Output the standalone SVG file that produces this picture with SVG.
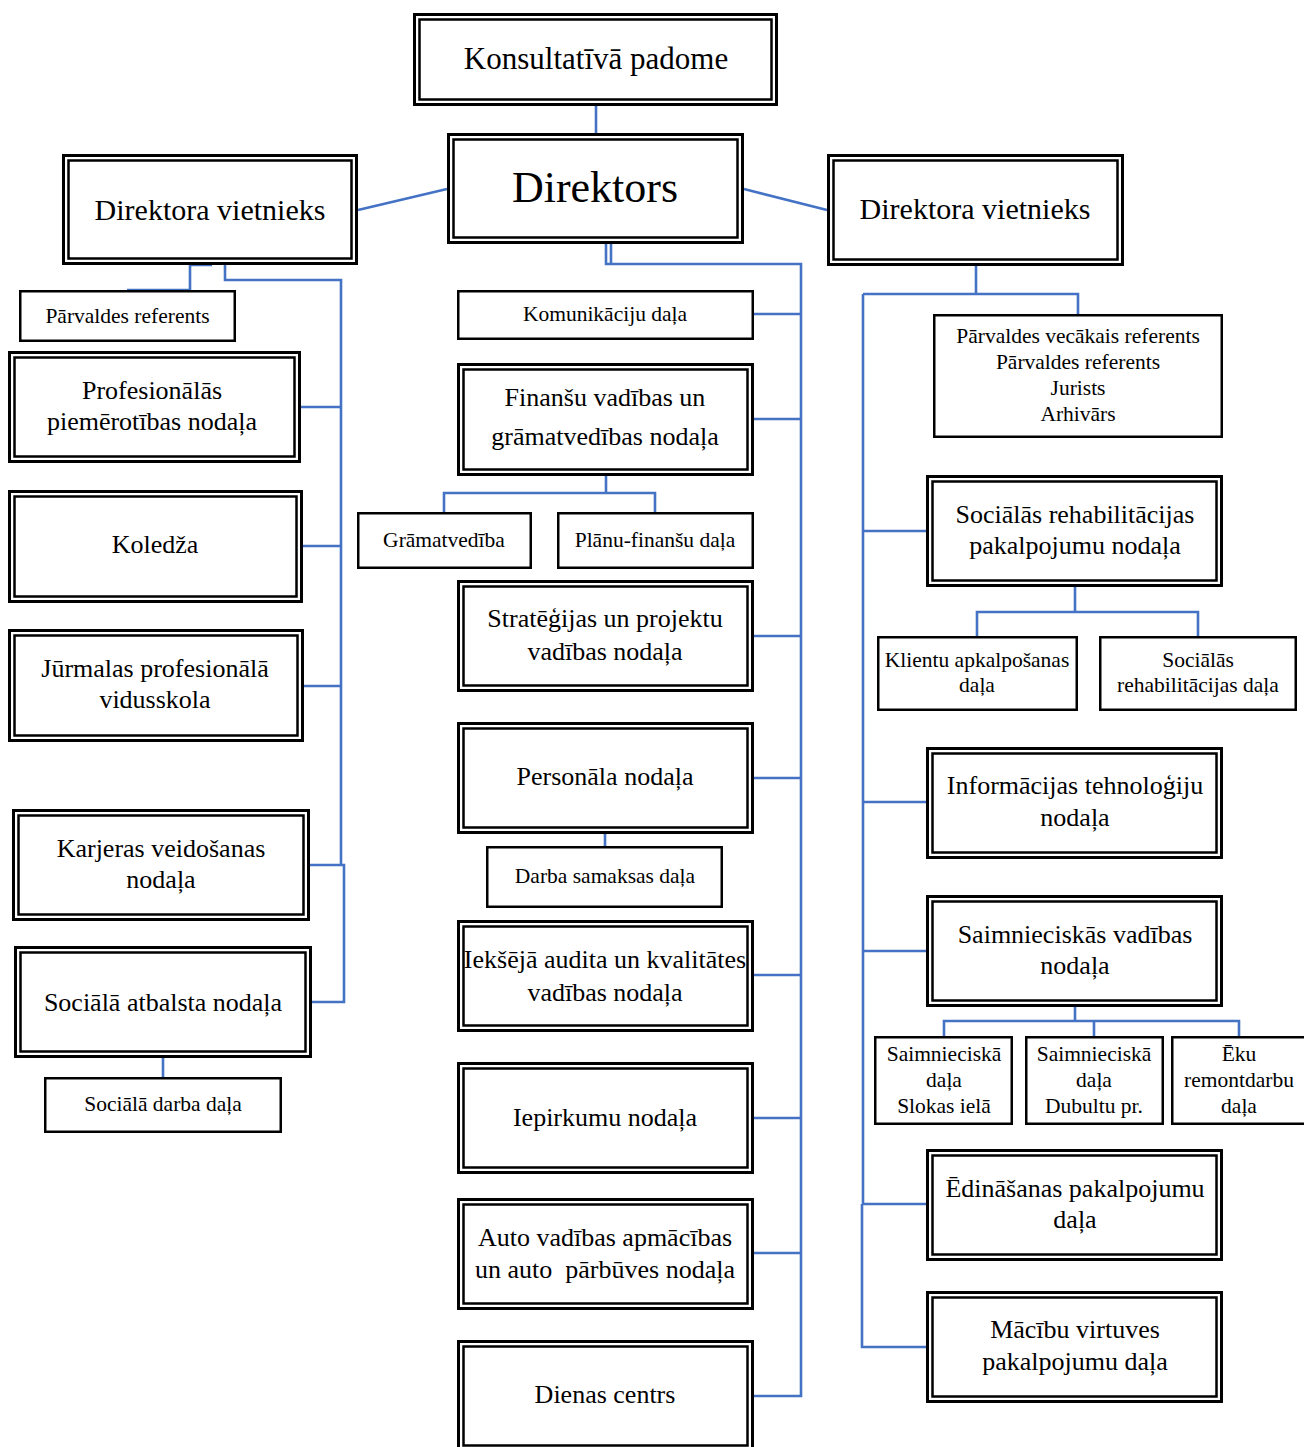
<svg xmlns="http://www.w3.org/2000/svg" width="1304" height="1447" viewBox="0 0 1304 1447">
<style>
.o{fill:#fff;stroke:#000;stroke-width:3}
.i{fill:none;stroke:#000;stroke-width:2.5}
.s{fill:#fff;stroke:#000;stroke-width:2.5}
.c{fill:none;stroke:#4472C4;stroke-width:2.6}
text{font-family:"Liberation Serif","Times New Roman",serif;fill:#000;text-anchor:middle}
.t26{font-size:26px}
.t21{font-size:21.5px}
.t30{font-size:30px}
</style>
<rect width="1304" height="1447" fill="#fff"/>
<g id="connectors">
<path class="c" d="M596,106V133"/>
<path class="c" d="M447,189L358,210"/>
<path class="c" d="M744,189L827,210"/>
<path class="c" d="M190,265V290H127M190,265H212"/>
<path class="c" d="M225,265V280H341V865M309,865H344V1002H311"/>
<path class="c" d="M341,407H300M341,546H301M341,686H303"/>
<path class="c" d="M163,1058V1077"/>
<path class="c" d="M606,244V264H801V1396H754M611,244V264"/>
<path class="c" d="M754,314H801M754,419H801M754,636H801M754,778H801M754,975H801M754,1118H801M754,1253H801"/>
<path class="c" d="M606,476V493M444,512V493H655V512"/>
<path class="c" d="M605,834V846"/>
<path class="c" d="M976,266V294M863,294H1078V314M863,294V1204M862,1204V1347H926M862,1204H926"/>
<path class="c" d="M863,531H926M863,802H926M863,951H926"/>
<path class="c" d="M1075,587V612M977,636V612H1198V636"/>
<path class="c" d="M1075,1007V1021M944,1036V1021H1239V1036M1094,1021V1036"/>
</g>
<g id="konsultativa">
<rect class="o" x="414.5" y="14.5" width="362" height="90"/><rect class="i" x="419.5" y="19.5" width="352" height="80"/>
<text x="596" y="69" style="font-size:31px">Konsultatīvā padome</text>
</g>
<g id="direktors">
<rect class="o" x="448.5" y="134.5" width="294" height="108"/><rect class="i" x="453.5" y="139.5" width="284" height="98"/>
<text x="595" y="202" style="font-size:44px">Direktors</text>
</g>
<g id="dv-left">
<rect class="o" x="63.5" y="155.5" width="293" height="108"/><rect class="i" x="68.5" y="160.5" width="283" height="98"/>
<text class="t30" x="210" y="220">Direktora vietnieks</text>
</g>
<g id="dv-right">
<rect class="o" x="828.5" y="155.5" width="294" height="109"/><rect class="i" x="833.5" y="160.5" width="284" height="99"/>
<text class="t30" x="975" y="219">Direktora vietnieks</text>
</g>
<g id="parv-ref-left">
<rect class="s" x="20.25" y="291.25" width="214.5" height="49.5"/>
<text class="t21" x="127.5" y="323">Pārvaldes referents</text>
</g>
<g id="prof">
<rect class="o" x="9.5" y="352.5" width="290" height="109"/><rect class="i" x="14.5" y="357.5" width="280" height="99"/>
<text class="t26" x="152" y="399">Profesionālās</text>
<text class="t26" x="152" y="430">piemērotības nodaļa</text>
</g>
<g id="koledza">
<rect class="o" x="9.5" y="491.5" width="292" height="110"/><rect class="i" x="14.5" y="496.5" width="282" height="100"/>
<text class="t26" x="155" y="553">Koledža</text>
</g>
<g id="jurmala">
<rect class="o" x="9.5" y="630.5" width="293" height="110"/><rect class="i" x="14.5" y="635.5" width="283" height="100"/>
<text class="t26" x="155" y="677">Jūrmalas profesionālā</text>
<text class="t26" x="155" y="708">vidusskola</text>
</g>
<g id="karjeras">
<rect class="o" x="13.5" y="810.5" width="295" height="109"/><rect class="i" x="18.5" y="815.5" width="285" height="99"/>
<text class="t26" x="161" y="857">Karjeras veidošanas</text>
<text class="t26" x="161" y="888">nodaļa</text>
</g>
<g id="soc-atbalsts">
<rect class="o" x="15.5" y="947.5" width="295" height="109"/><rect class="i" x="20.5" y="952.5" width="285" height="99"/>
<text class="t26" x="163" y="1011">Sociālā atbalsta nodaļa</text>
</g>
<g id="soc-darba">
<rect class="s" x="45.25" y="1078.25" width="235.5" height="53.5"/>
<text class="t21" x="163" y="1111">Sociālā darba daļa</text>
</g>
<g id="komunikaciju">
<rect class="s" x="458.25" y="291.25" width="294.5" height="47.5"/>
<text class="t21" x="605" y="321">Komunikāciju daļa</text>
</g>
<g id="finansu">
<rect class="o" x="458.5" y="364.5" width="294" height="110"/><rect class="i" x="463.5" y="369.5" width="284" height="100"/>
<text class="t26" x="605" y="406">Finanšu vadības un</text>
<text class="t26" x="605" y="445">grāmatvedības nodaļa</text>
</g>
<g id="gramatvediba">
<rect class="s" x="358.25" y="513.25" width="172.5" height="54.5"/>
<text class="t21" x="444" y="547">Grāmatvedība</text>
</g>
<g id="planu-finansu">
<rect class="s" x="558.25" y="513.25" width="194.5" height="54.5"/>
<text class="t21" x="655" y="547">Plānu-finanšu daļa</text>
</g>
<g id="strategijas">
<rect class="o" x="458.5" y="581.5" width="294" height="109"/><rect class="i" x="463.5" y="586.5" width="284" height="99"/>
<text class="t26" x="605" y="627">Stratēģijas un projektu</text>
<text class="t26" x="605" y="660">vadības nodaļa</text>
</g>
<g id="personala">
<rect class="o" x="458.5" y="723.5" width="294" height="109"/><rect class="i" x="463.5" y="728.5" width="284" height="99"/>
<text class="t26" x="605" y="785">Personāla nodaļa</text>
</g>
<g id="darba-samaksas">
<rect class="s" x="487.25" y="847.25" width="234.5" height="59.5"/>
<text class="t21" x="605" y="883">Darba samaksas daļa</text>
</g>
<g id="ieksejais-audits">
<rect class="o" x="458.5" y="921.5" width="294" height="109"/><rect class="i" x="463.5" y="926.5" width="284" height="99"/>
<text class="t26" x="605" y="968">Iekšējā audita un kvalitātes</text>
<text class="t26" x="605" y="1001">vadības nodaļa</text>
</g>
<g id="iepirkumu">
<rect class="o" x="458.5" y="1063.5" width="294" height="109"/><rect class="i" x="463.5" y="1068.5" width="284" height="99"/>
<text class="t26" x="605" y="1126">Iepirkumu nodaļa</text>
</g>
<g id="auto">
<rect class="o" x="458.5" y="1199.5" width="294" height="109"/><rect class="i" x="463.5" y="1204.5" width="284" height="99"/>
<text class="t26" x="605" y="1246">Auto vadības apmācības</text>
<text class="t26" x="605" y="1278" xml:space="preserve">un auto  pārbūves nodaļa</text>
</g>
<g id="dienas-centrs">
<rect class="o" x="458.5" y="1341.5" width="294" height="109"/><rect class="i" x="463.5" y="1346.5" width="284" height="99"/>
<text class="t26" x="605" y="1403">Dienas centrs</text>
</g>
<g id="parv-vecakais">
<rect class="s" x="934.25" y="315.25" width="287.5" height="121.5"/>
<text class="t21" x="1078" y="343">Pārvaldes vecākais referents</text>
<text class="t21" x="1078" y="369">Pārvaldes referents</text>
<text class="t21" x="1078" y="395">Jurists</text>
<text class="t21" x="1078" y="421">Arhivārs</text>
</g>
<g id="soc-rehab">
<rect class="o" x="927.5" y="476.5" width="294" height="109"/><rect class="i" x="932.5" y="481.5" width="284" height="99"/>
<text class="t26" x="1075" y="523">Sociālās rehabilitācijas</text>
<text class="t26" x="1075" y="554">pakalpojumu nodaļa</text>
</g>
<g id="klientu">
<rect class="s" x="878.25" y="637.25" width="198.5" height="72.5"/>
<text class="t21" x="977" y="667">Klientu apkalpošanas</text>
<text class="t21" x="977" y="692">daļa</text>
</g>
<g id="soc-rehab-dala">
<rect class="s" x="1100.25" y="637.25" width="195.5" height="72.5"/>
<text class="t21" x="1198" y="667">Sociālās</text>
<text class="t21" x="1198" y="692">rehabilitācijas daļa</text>
</g>
<g id="info-tehn">
<rect class="o" x="927.5" y="748.5" width="294" height="109"/><rect class="i" x="932.5" y="753.5" width="284" height="99"/>
<text class="t26" x="1075" y="794">Informācijas tehnoloģiju</text>
<text class="t26" x="1075" y="826">nodaļa</text>
</g>
<g id="saimn-vad">
<rect class="o" x="927.5" y="896.5" width="294" height="109"/><rect class="i" x="932.5" y="901.5" width="284" height="99"/>
<text class="t26" x="1075" y="943">Saimnieciskās vadības</text>
<text class="t26" x="1075" y="974">nodaļa</text>
</g>
<g id="saimn-slokas">
<rect class="s" x="875.25" y="1037.25" width="136.5" height="86.5"/>
<text class="t21" x="944" y="1061">Saimnieciskā</text>
<text class="t21" x="944" y="1087">daļa</text>
<text class="t21" x="944" y="1113">Slokas ielā</text>
</g>
<g id="saimn-dubultu">
<rect class="s" x="1026.25" y="1037.25" width="136.5" height="86.5"/>
<text class="t21" x="1094" y="1061">Saimnieciskā</text>
<text class="t21" x="1094" y="1087">daļa</text>
<text class="t21" x="1094" y="1113">Dubultu pr.</text>
</g>
<g id="eku-remont">
<rect class="s" x="1172.25" y="1037.25" width="140" height="86.5"/>
<text class="t21" x="1239" y="1061">Ēku</text>
<text class="t21" x="1239" y="1087">remontdarbu</text>
<text class="t21" x="1239" y="1113">daļa</text>
</g>
<g id="edinasanas">
<rect class="o" x="927.5" y="1150.5" width="294" height="109"/><rect class="i" x="932.5" y="1155.5" width="284" height="99"/>
<text class="t26" x="1075" y="1197">Ēdināšanas pakalpojumu</text>
<text class="t26" x="1075" y="1228">daļa</text>
</g>
<g id="macibu-virtuve">
<rect class="o" x="927.5" y="1292.5" width="294" height="109"/><rect class="i" x="932.5" y="1297.5" width="284" height="99"/>
<text class="t26" x="1075" y="1338">Mācību virtuves</text>
<text class="t26" x="1075" y="1370">pakalpojumu daļa</text>
</g>
</svg>
